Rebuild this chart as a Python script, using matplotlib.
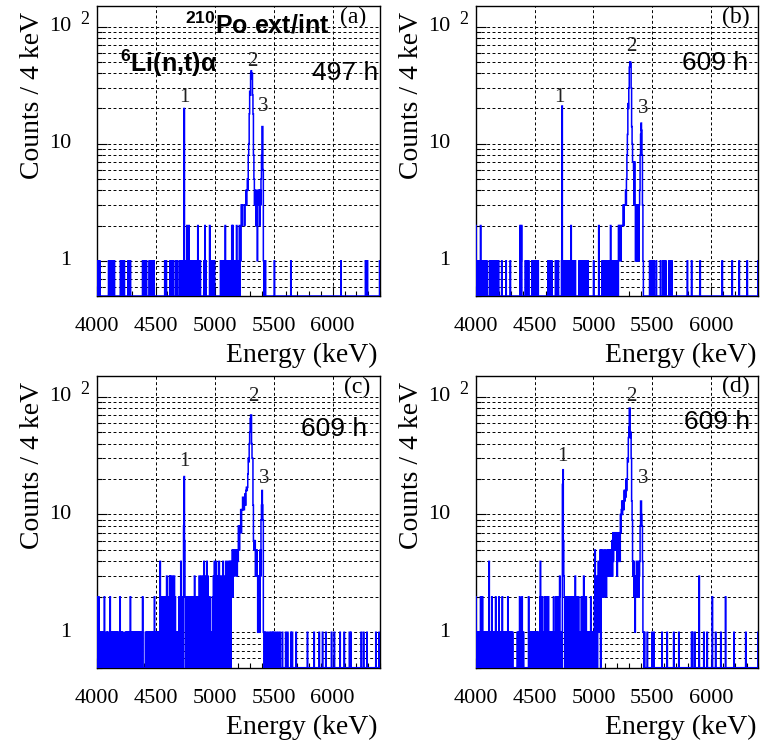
import numpy as np
import matplotlib.pyplot as plt
from matplotlib.ticker import LogLocator, NullFormatter, MultipleLocator, FixedLocator

plt.rcParams['mathtext.default'] = 'regular'

# bins are 4 keV wide; energies below are lower bin edges in keV
# panel (a), 497 h
a_ones = [4004, 4016, 4024, 4100, 4108, 4120, 4128, 4136, 4148, 4200, 4212, 4224, 4232,
          4264, 4276, 4284, 4388, 4404, 4420, 4444, 4452, 4464, 4476, 4484, 4576, 4588,
          4620, 4632, 4648, 4668, 4684, 4704, 4716, 4728, 4736, 4744, 4752, 4772, 4788,
          4796, 4804, 4812, 4820, 4832, 4840, 4848, 4868, 4876, 4908, 4924, 4964, 4972,
          4980, 4988, 4996, 5048, 5056, 5064, 5072, 5080, 5096, 5104, 5112, 5120, 5128,
          5136, 5160, 5168, 5176, 5192, 5200, 5216, 5220, 5420, 5428, 5504, 5644, 6068,
          6276, 6284, 6292, 6396]
a_twos = [4764, 4780, 4856, 4916, 4956, 5088, 5144, 5152, 5184, 5208]
a_more_E = [4740]
a_more_N = [20]
a_run_E0 = 5224
a_run = [3, 3, 2, 3, 3, 3, 3, 2, 3, 3, 4, 3, 4, 5, 4, 8, 10, 18, 28, 26, 40, 42, 36, 40,
         26, 18, 8, 5, 3, 4, 3, 2, 4, 3, 1, 3, 4, 3, 4, 2, 4, 3, 5, 8, 14, 14, 6, 1]

# panel (b), 609 h
b_ones = [4008, 4016, 4024, 4048, 4056, 4064, 4072, 4080, 4092, 4116, 4124, 4136, 4148,
          4160, 4172, 4180, 4192, 4220, 4256, 4292, 4384, 4420, 4436, 4448, 4476, 4484,
          4492, 4500, 4508, 4520, 4528, 4612, 4620, 4632, 4644, 4676, 4684, 4700, 4728,
          4736, 4748, 4756, 4764, 4772, 4780, 4788, 4796, 4816, 4824, 4836, 4844, 4876,
          4884, 4892, 4904, 4912, 4920, 4928, 4940, 4952, 5000, 5072, 5080, 5088, 5096,
          5108, 5116, 5124, 5132, 5152, 5160, 5168, 5176, 5184, 5192, 5200, 5476, 5484,
          5500, 5512, 5532, 5568, 5588, 5604, 5612, 5640, 5648, 5664, 5796, 5832, 5904,
          6092, 6176, 6236, 6304, 6396]
b_twos = [4000, 4040, 4376, 4388, 4808, 5044, 5144]
b_more_E = [4732]
b_more_N = [21]
b_run_E0 = 5212
b_run = [2, 1, 2, 2, 2, 1, 2, 2, 2, 2, 3, 2, 3, 3, 3, 4, 3, 5, 8, 12, 22, 20, 30, 45,
         50, 50, 48, 30, 14, 10, 7, 7, 6, 3, 7, 3, 1, 3, 1, 3, 1, 3, 3, 1, 3, 4, 8, 12,
         15, 13, 8, 3, 1]

# panel (c), 609 h
c_ones = [4008, 4024, 4032, 4040, 4048, 4056, 4080, 4088, 4096, 4120, 4128, 4136, 4144,
          4152, 4160, 4168, 4176, 4184, 4204, 4212, 4220, 4240, 4248, 4256, 4264, 4272,
          4292, 4300, 4308, 4316, 4324, 4332, 4340, 4348, 4356, 4364, 4372, 4380, 4412,
          4420, 4428, 4436, 4444, 4452, 4460, 4468, 4476, 4496, 4504, 4512, 4520, 4528,
          4560, 4584, 4608, 4648, 4672, 4680, 4688, 4704, 4720, 4756, 4780, 4836, 4860,
          4892, 4948, 4964, 4972, 5004, 5028, 5060, 5424, 5436, 5452, 5468, 5480, 5492,
          5504, 5520, 5536, 5552, 5572, 5600, 5616, 5644, 5656, 5688, 5784, 5840, 5884,
          5912, 5940, 5988, 6012, 6060, 6096, 6140, 6152, 6240, 6260, 6288, 6364, 6392]
c_twos = [4000, 4016, 4064, 4112, 4196, 4284, 4388, 4488, 4544, 4552, 4568, 4576, 4600,
          4632, 4664, 4696, 4728, 4748, 4764, 4772, 4788, 4796, 4812, 4820, 4844, 4852,
          4876, 4924, 4956, 4980, 5044, 5084, 5100, 5140]
c_more_E = [4536, 4592, 4616, 4624, 4640, 4656, 4712, 4736, 4740, 4744, 4828, 4868, 4884,
            4900, 4908, 4916, 4932, 4940, 4988, 4996, 5012, 5020, 5036, 5052, 5068, 5076,
            5092, 5108, 5116, 5124, 5132]
c_more_N = [4, 3, 3, 3, 3, 3, 4, 8, 21, 6, 3, 3, 3, 3, 4, 3, 4, 3, 3, 4, 4, 3, 4, 3, 4,
            3, 4, 4, 3, 4, 4]
c_run_E0 = 5144
c_run = [2, 5, 2, 5, 4, 5, 3, 5, 5, 4, 5, 3, 5, 4, 8, 8, 5, 8, 8, 11, 7, 11, 11, 14, 11,
         12, 11, 14, 15, 12, 16, 17, 16, 17, 22, 30, 28, 40, 50, 65, 70, 70, 40, 30, 30,
         12, 6, 5, 6, 6, 3, 5, 3, 5, 3, 1, 3, 1, 3, 1, 5, 3, 9, 12, 16, 12, 9, 1]

# panel (d), 609 h
d_ones = [4008, 4016, 4024, 4032, 4048, 4064, 4072, 4080, 4088, 4096, 4104, 4120, 4128,
          4144, 4152, 4160, 4176, 4184, 4192, 4200, 4208, 4216, 4232, 4240, 4248, 4256,
          4264, 4280, 4288, 4296, 4304, 4312, 4352, 4360, 4368, 4380, 4396, 4404, 4452,
          4460, 4468, 4476, 4484, 4492, 4500, 4508, 4516, 4524, 4532, 4556, 4564, 4580,
          4588, 4596, 4604, 4624, 4632, 4640, 4648, 4656, 4668, 4676, 4720, 4728, 4848,
          4864, 4880, 4888, 4904, 4920, 4944, 4952, 4960, 4968, 4984, 4992, 5000, 5020,
          5036, 5052, 5424, 5432, 5456, 5496, 5512, 5580, 5624, 5680, 5724, 5832, 5840,
          5860, 5936, 5964, 6036, 6080, 6192, 6292, 6396]
d_twos = [4000, 4040, 4056, 4136, 4168, 4196, 4224, 4272, 4372, 4392, 4448, 4544, 4564,
          4584, 4600, 4616, 4660, 4680, 4696, 4708, 4752, 4760, 4768, 4776, 4784, 4792,
          4800, 4808, 4816, 4824, 4832, 4840, 4856, 4872, 4896, 4912, 4928, 4936, 4976,
          5008, 5028, 5044, 6008, 6120]
d_more_E = [4112, 4548, 4712, 4736, 4740, 4744, 4748, 4844, 4916, 5012, 5024, 5040, 5048,
            5056, 5896]
d_more_N = [4, 4, 3, 18, 24, 6, 3, 3, 3, 5, 3, 4, 3, 5, 3]
d_run_E0 = 5064
d_run = [5, 2, 4, 2, 5, 2, 4, 2, 5, 3, 4, 2, 5, 3, 4, 5, 3, 4, 5, 3, 4, 5, 3, 6, 3, 7,
         4, 6, 7, 5, 7, 7, 5, 7, 3, 5, 4, 7, 5, 7, 4, 10, 7, 11, 13, 10, 13, 13, 11, 16,
         13, 16, 14, 20, 16, 20, 30, 28, 45, 55, 80, 80, 45, 50, 30, 13, 9, 4, 3, 4, 2,
         3, 1, 3, 2, 4, 2, 3, 2, 4, 2, 3, 4, 8, 13, 13, 10, 8, 4, 1]

panel_tags = ['(a)', '(b)', '(c)', '(d)']
live_times = ['497 h', '609 h', '609 h', '609 h']
x_ticks = [4000, 4500, 5000, 5500, 6000]

edges = np.arange(4000, 6401, 4)


def fill_counts(ones, twos, more_E, more_N, run_E0, run):
    counts = np.zeros(len(edges) - 1)
    for e in ones:
        counts[(e - 4000) // 4] = 1
    for e in twos:
        counts[(e - 4000) // 4] = 2
    for e, n in zip(more_E, more_N):
        counts[(e - 4000) // 4] = n
    i0 = (run_E0 - 4000) // 4
    counts[i0:i0 + len(run)] = run
    return counts


hists = [fill_counts(a_ones, a_twos, a_more_E, a_more_N, a_run_E0, a_run),
         fill_counts(b_ones, b_twos, b_more_E, b_more_N, b_run_E0, b_run),
         fill_counts(c_ones, c_twos, c_more_E, c_more_N, c_run_E0, c_run),
         fill_counts(d_ones, d_twos, d_more_E, d_more_N, d_run_E0, d_run)]

SERIF = 'Liberation Serif'
SANS = 'Liberation Sans'
ymin, ymax = 0.5, 150

fig = plt.figure(figsize=(7.69, 7.41), dpi=100)
boxes = [[0.1257, 0.6005, 0.3684, 0.3914], [0.6186, 0.6005, 0.3675, 0.3914],
         [0.1257, 0.0989, 0.3684, 0.3937], [0.6186, 0.0989, 0.3675, 0.3937]]

# text placements (axes fraction)
tag_pos = [(0.905, 0.962), (0.921, 0.960), (0.919, 0.959), (0.921, 0.964)]
time_pos = [(0.995, 0.769), (0.963, 0.805), (0.954, 0.818), (0.970, 0.841)]
peak_pos = [[(0.308, 0.686), (0.549, 0.807), (0.587, 0.652)],
            [(0.295, 0.686), (0.550, 0.859), (0.594, 0.645)],
            [(0.309, 0.706), (0.552, 0.929), (0.591, 0.650)],
            [(0.305, 0.723), (0.550, 0.929), (0.594, 0.647)]]

for k, box in enumerate(boxes):
    ax = fig.add_axes(box)
    counts = hists[k]
    ax.stairs(np.where(counts > 0, counts, ymin), edges, baseline=None,
              color='#0000ff', lw=1.1, zorder=3)
    ax.set_yscale('log')
    ax.set_xlim(4000, 6400)
    ax.set_ylim(ymin, ymax)

    ax.xaxis.set_major_locator(FixedLocator(x_ticks))
    ax.xaxis.set_minor_locator(MultipleLocator(100))
    ax.set_xticklabels([str(t) for t in x_ticks], fontsize=16, family=SERIF)
    ax.yaxis.set_major_locator(FixedLocator([1, 10, 100]))
    ax.yaxis.set_minor_locator(LogLocator(base=10, subs=np.arange(2, 10)))
    ax.yaxis.set_major_formatter(NullFormatter())
    ax.yaxis.set_minor_formatter(NullFormatter())
    ax.tick_params(which='both', direction='in', top=False, right=False)
    ax.tick_params(which='major', length=7, width=0.8)
    ax.tick_params(which='minor', length=3.5, width=0.8)
    ax.tick_params(axis='x', pad=15)

    ax.grid(axis='x', which='major', color='k', ls=(0, (3, 2.5)), lw=0.7)
    ax.grid(axis='y', which='both', color='k', ls=(0, (3, 2.5)), lw=0.7)
    for s in ax.spines.values():
        s.set_linewidth(1.0)

    # y tick labels
    for v, lab in [(1, '1'), (10, '10'), (100, '10')]:
        ax.annotate(lab, xy=(0, v), xycoords=('axes fraction', 'data'),
                    xytext=(-18.5, 0), textcoords='offset points',
                    ha='right', va='center', fontsize=16, family=SERIF)
    ax.annotate('2', xy=(0, 100), xycoords=('axes fraction', 'data'),
                xytext=(-12, 5), textcoords='offset points',
                ha='left', va='center', fontsize=13, family=SERIF)

    ax.text(-0.226, 0.979, 'Counts / 4 keV', rotation=90, ha='center', va='top',
            fontsize=20, family=SERIF, transform=ax.transAxes)
    ax.text(0.993, -0.205, 'Energy (keV)', ha='right', va='center',
            fontsize=20, family=SERIF, transform=ax.transAxes)

    tx, ty = tag_pos[k]
    ax.text(tx, ty, panel_tags[k], ha='center', va='center', fontsize=17,
            family=SERIF, transform=ax.transAxes, zorder=5)
    hx, hy = time_pos[k]
    ax.text(hx, hy, live_times[k], ha='right', va='center', fontsize=19,
            family=SANS, transform=ax.transAxes, zorder=5)
    for j, (px, py) in enumerate(peak_pos[k]):
        ax.text(px, py, str(j + 1), ha='center', va='center', fontsize=15,
                family=SERIF, color='#222222', transform=ax.transAxes, zorder=5)

    if k == 0:
        ax.text(0.312, 0.935, '$^{210}$Po ext/int', ha='left', va='center',
                fontsize=18, family=SANS, weight='bold', transform=ax.transAxes, zorder=5)
        ax.text(0.082, 0.803, '$^{6}$Li(n,t)α', ha='left', va='center',
                fontsize=18, family=SANS, weight='bold', transform=ax.transAxes, zorder=5)

fig.savefig('out.png', dpi=100)
